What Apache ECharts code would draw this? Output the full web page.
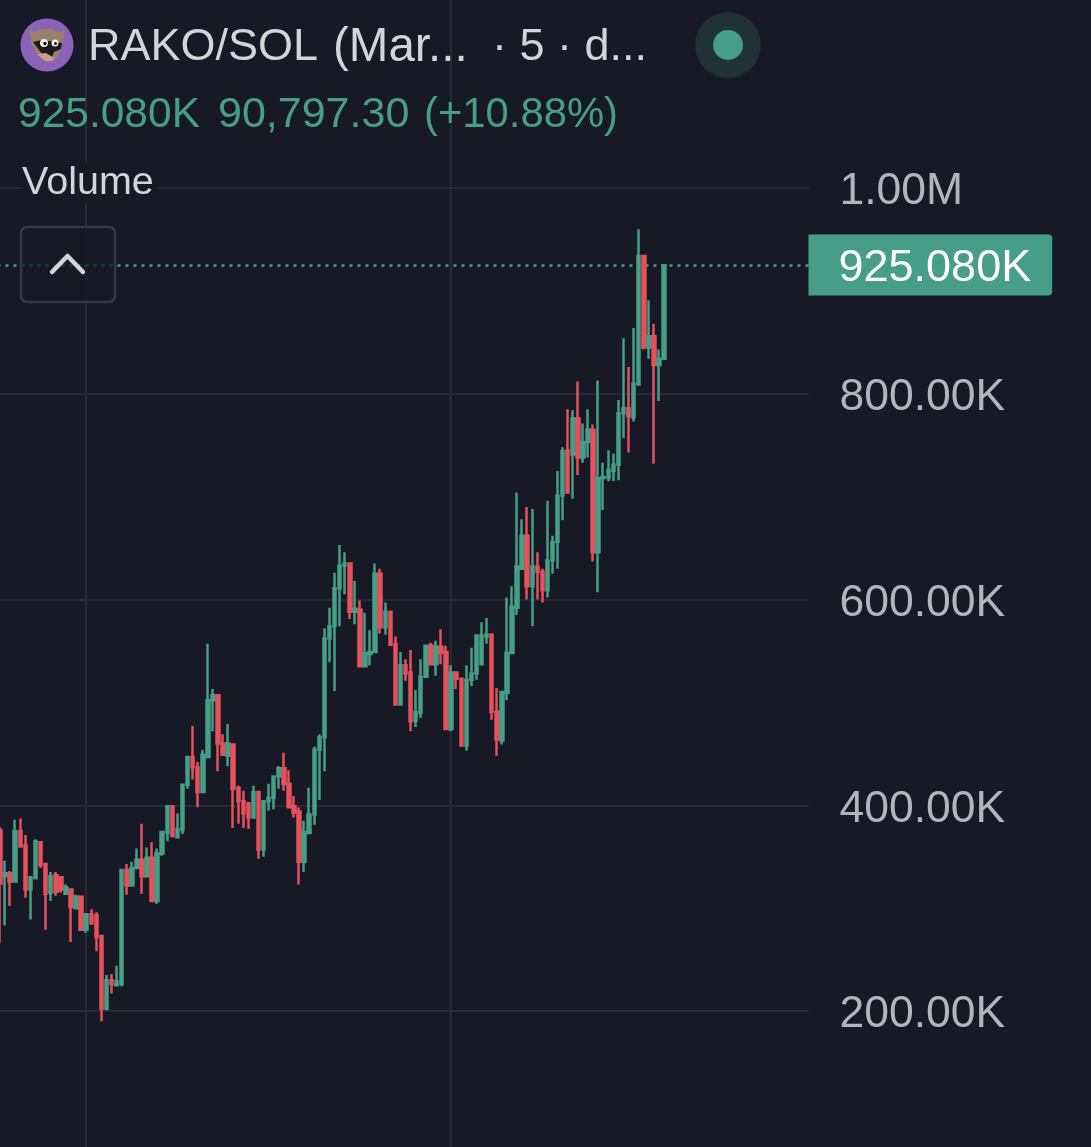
<!DOCTYPE html>
<html>
<head>
<meta charset="utf-8">
<style>html,body{margin:0;padding:0;background:#171a26}#chart{width:1091px;height:1147px}</style>
<script src="https://cdn.jsdelivr.net/npm/echarts@6/dist/echarts.min.js"></script>
</head>
<body>
<div id="chart"></div>
<script>
// values in thousands
const opens = [376,331,334,326,375,361,318,329,364,343,315,332,330,314,318,300,311,279,294,293,273,202,230,225,226,337,322,339,347,331,349,307,353,373,
  399,369,376,420,447,437,413,447,502,507,460,448,459,417,404,402,388,413,357,404,407,428,436,421,399,394,345,373,391,454,466,
  562,574,611,633,635,588,590,535,547,549,625,573,588,557,498,536,529,482,490,525,555,537,554,549,474,529,523,458,522,528,537,564,566,491,463,509,548,
  592,630,662,613,632,627,609,638,656,701,745,741,776,738,753,765,646,718,718,725,731,781,786,777,809,934,845,856,828,834];
const closes = [324,334,326,375,360,318,330,365,342,314,331,316,318,320,301,311,279,294,285,272,202,230,226,229,337,322,339,347,331,349,307,353,374,399,
  370,377,420,447,437,413,449,502,507,460,449,460,416,404,392,388,413,357,404,407,428,436,421,398,393,345,374,391,454,466,562,
  574,611,633,635,588,591,535,548,549,625,573,588,556,498,536,528,482,491,525,555,537,554,548,474,529,523,458,522,528,565,565,566,491,464,510,548,593,
  632,662,613,632,627,609,638,656,701,744,704,776,738,753,765,646,718,719,726,731,781,786,778,810,934,845,856,828,834,925];
const lows = [266,283,302,326,360,310,289,329,339,279,307,312,315,314,267,299,279,276,285,258,190,201,217,224,224,313,322,338,314,331,307,304,351,365,
  370,368,372,416,425,398,413,446,472,433,448,438,378,382,378,377,388,348,350,395,396,416,414,398,388,323,335,372,381,405,433,
  539,511,574,605,581,576,535,535,536,549,567,566,556,498,498,521,472,476,485,524,537,526,537,474,472,513,458,453,516,522,536,557,483,448,459,502,548,
  585,629,600,574,600,597,602,625,630,677,703,698,721,733,738,637,607,687,715,715,716,757,743,773,809,843,834,732,793,834];
const highs = [379,346,336,386,387,371,331,367,364,343,335,335,331,323,318,313,311,294,299,296,273,235,236,244,337,343,345,358,382,359,364,358,375,399,
  399,392,420,448,477,442,454,557,513,507,469,479,459,419,414,403,419,413,404,421,428,438,451,434,409,398,385,417,457,469,572,
  592,626,653,646,636,618,599,587,570,635,630,597,588,564,549,542,551,512,542,555,558,560,571,555,536,529,523,536,553,565,578,582,566,514,510,602,613,
  704,678,690,688,646,630,696,662,725,748,785,784,812,771,785,770,813,733,745,742,794,854,826,864,960,934,891,868,843,925];
const yTicks = { 1000: '1.00M', 800: '800.00K', 600: '600.00K', 400: '400.00K', 200: '200.00K' };
const lastPrice = 925.08;
const lastPriceLabel = '925.080K';

const bg = '#171a26';
const green = '#469e87';
const red = '#e4515b';
const gridColor = '#272a35';
const font = '"Liberation Sans", sans-serif';

const categories = opens.map((_, i) => String(i));
const candles = opens.map((o, i) => [o, closes[i], lows[i], highs[i]]);

function headerText(x, y, text, size, fill, extra) {
    return { type: 'text', x: x, y: y, z: 20,
        style: Object.assign({ text: text, fill: fill, fontSize: size, fontFamily: font, textVerticalAlign: 'middle' }, extra || {}) };
}

const myChart = echarts.init(document.getElementById('chart'));
myChart.setOption({
    animation: false,
    backgroundColor: bg,
    grid: { left: -2.5, top: -17.75, width: 811, height: 1234.5, outerBoundsMode: 'none' },
    xAxis: {
        type: 'category', data: categories, max: 159,
        axisLine: { show: false }, axisTick: { show: false }, axisLabel: { show: false }, splitLine: { show: false }
    },
    yAxis: {
        type: 'value', position: 'right', min: 0, max: 1200, interval: 200,
        axisLine: { show: false }, axisTick: { show: false },
        splitLine: { lineStyle: { color: gridColor, width: 2 } },
        axisLabel: {
            margin: 31,
            formatter: v => yTicks[v] ? '{t|' + yTicks[v] + '}' : '',
            rich: { t: { color: '#b2b5be', fontSize: 44.5, fontFamily: font, padding: [8, 0, 0, 0] } }
        }
    },
    series: [
        {
            // vertical time lines, kept behind the candles
            type: 'line', data: [], silent: true,
            markLine: {
                silent: true, symbol: 'none', z: 1, animation: false,
                lineStyle: { color: gridColor, width: 2, type: 'solid' }, label: { show: false },
                data: [{ xAxis: '17' }, { xAxis: '89' }]
            }
        },
        {
            type: 'candlestick', data: candles, barWidth: 3, z: 3,
            itemStyle: { color: green, color0: red, borderColor: green, borderColor0: red, borderWidth: 2.5 },
            markLine: {
                silent: true, symbol: 'none', z: 2, animation: false, precision: 2,
                lineStyle: { color: green, width: 2.5, type: [3, 5] },
                label: {
                    position: 'end', distance: 0, formatter: '{p|' + lastPriceLabel + '}',
                    backgroundColor: green, padding: [4, 21, 4, 30], borderRadius: [0, 4, 4, 0],
                    rich: { p: { color: '#ffffff', fontSize: 45, fontFamily: font, padding: [8, 0, 0, 0] } }
                },
                data: [{ yAxis: lastPrice }]
            }
        }
    ],
    graphic: [
        // logo
        { type: 'circle', shape: { cx: 47, cy: 45, r: 26.5 }, style: { fill: '#8a63b8' }, z: 20 },
        { type: 'polygon', shape: { points: [[29,30],[36,31],[41,29],[53,29],[59,32],[65,30],[63,40],[61,50],[55,60],[46,62],[37,54],[32,45]] }, style: { fill: '#94826c' }, z: 21 },
        { type: 'polygon', shape: { points: [[33,42],[42,40],[62,43],[61,49],[54,52],[52,57],[42,54]] }, style: { fill: '#1d1a1a' }, z: 22 },
        { type: 'polygon', shape: { points: [[37,54],[46,53],[54,58],[52,61],[45,61]] }, style: { fill: '#c9a090' }, z: 22 },
        { type: 'circle', shape: { cx: 44, cy: 43, r: 4 }, style: { fill: '#f2f2f2' }, z: 23 },
        { type: 'circle', shape: { cx: 55, cy: 43, r: 3.5 }, style: { fill: '#f2f2f2' }, z: 23 },
        { type: 'circle', shape: { cx: 45, cy: 43.5, r: 1.7 }, style: { fill: '#111' }, z: 24 },
        { type: 'circle', shape: { cx: 55.5, cy: 43.5, r: 1.5 }, style: { fill: '#111' }, z: 24 },
        // header
        headerText(88, 48, 'RAKO/SOL', 45, '#d3d4dc'),
        headerText(333, 48, '(Mar...', 47.5, '#d3d4dc'),
        headerText(492, 48, '· 5 · d...', 45, '#d3d4dc'),
        { type: 'circle', shape: { cx: 728, cy: 45, r: 33 }, style: { fill: '#1f3237' }, z: 20 },
        { type: 'circle', shape: { cx: 728, cy: 45, r: 15 }, style: { fill: green }, z: 21 },
        headerText(18, 115, '925.080K', 42.5, green),
        headerText(218, 115, '90,797.30', 43, green),
        headerText(424, 115, '(+10.88%)', 41.8, green),
        headerText(22, 183, 'Volume', 39.5, '#d3d4dc', { backgroundColor: bg, padding: [0, 4, 0, 0] }),
        // collapse button
        { type: 'rect', shape: { x: 21, y: 227, width: 94, height: 75, r: 6 }, style: { fill: 'rgba(23,26,38,0.75)', stroke: '#363944', lineWidth: 2.5 }, z: 20 },
        { type: 'polyline', shape: { points: [[52,272],[67.5,256],[83,272]] }, style: { stroke: '#d3d4dc', lineWidth: 4.5, fill: null, lineCap: 'round', lineJoin: 'round' }, z: 21 }
    ]
});
</script>
</body>
</html>
